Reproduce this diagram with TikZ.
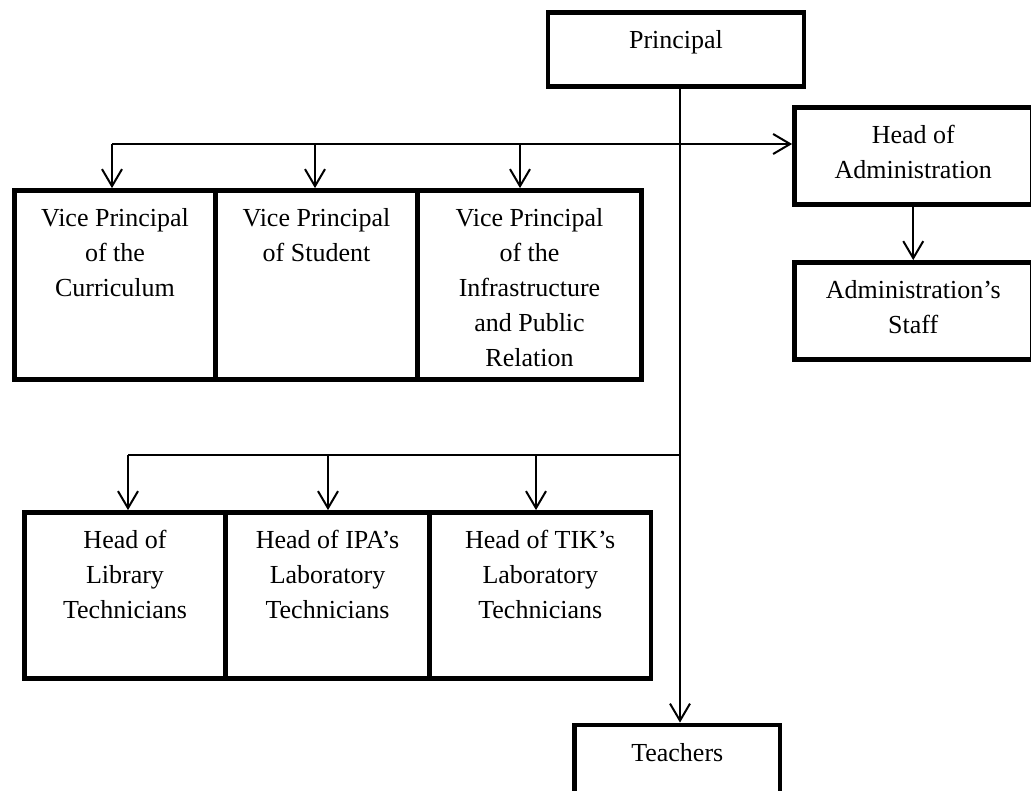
\documentclass[tikz,border=0pt]{standalone}
\usepackage{fontspec}
\setmainfont{Liberation Serif}
\usetikzlibrary{arrows.meta}
\newcommand\bxt[3]{\parbox[c][#2][t]{#1}{\centering\fontsize{26}{35}\selectfont\rule{0pt}{36pt}#3\par}}
\begin{document}
\begin{tikzpicture}[x=1pt,y=-1pt,
  box/.style={draw,line width=4.8pt,inner sep=0pt},
  conn/.style={line width=2pt},
  arr/.style={conn,-{Straight Barb[length=17pt,width=20pt]}}]
\useasboundingbox (0,0) rectangle (1031,790);
\clip (0,0) rectangle (1031,790);
% boxes
\node[box] (P)  at (676,49.5)   {\bxt{256pt}{74pt}{Principal}};
\node[box] (VP1) at (115,285)   {\bxt{201pt}{189pt}{Vice Principal\\of the\\Curriculum}};
\node[box] (VP2) at (316.5,285) {\bxt{202pt}{189pt}{Vice Principal\\of Student}};
\node[box] (VP3) at (529.5,285) {\bxt{224pt}{189pt}{Vice Principal\\of the\\Infrastructure\\and Public\\Relation}};
\node[box] (HA) at (913.25,156) {\bxt{237.5pt}{97pt}{Head of\\Administration}};
\node[box] (AS) at (913.25,311) {\bxt{237.5pt}{97pt}{Administration’s\\Staff}};
\node[box] (L1) at (125,595.5)  {\bxt{201pt}{166pt}{Head of\\Library\\Technicians}};
\node[box] (L2) at (327.5,595.5) {\bxt{204pt}{166pt}{Head of IPA’s\\Laboratory\\Technicians}};
\node[box] (L3) at (540.25,595.5) {\bxt{221.5pt}{166pt}{Head of TIK’s\\Laboratory\\Technicians}};
\node[box] (T) at (677.25,762)  {\bxt{205.5pt}{74pt}{Teachers}};
% connector coordinates
\coordinate (sx) at (680,0);
\coordinate (d1) at (112,144);
\coordinate (d2) at (315,144);
\coordinate (d3) at (520,144);
\coordinate (e1) at (128,455);
\coordinate (e2) at (328,455);
\coordinate (e3) at (536,455);
% connectors
\draw[arr] (P.south -| sx) -- (T.north -| sx);
\draw[arr] (d1) -- (HA.west |- d1);
\draw[arr] (d1) -- (d1 |- VP1.north);
\draw[arr] (d2) -- (d2 |- VP2.north);
\draw[arr] (d3) -- (d3 |- VP3.north);
\draw[conn] (e1) -- (e1 -| sx);
\draw[arr] (e1) -- (e1 |- L1.north);
\draw[arr] (e2) -- (e2 |- L2.north);
\draw[arr] (e3) -- (e3 |- L3.north);
\draw[arr] (HA.south) -- (AS.north);
\end{tikzpicture}
\end{document}
